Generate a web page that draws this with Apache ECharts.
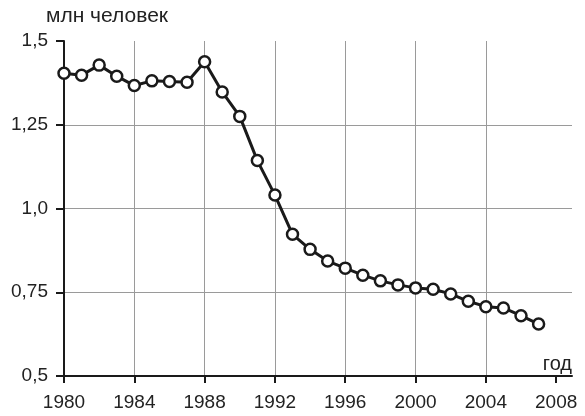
<!DOCTYPE html>
<html>
<head>
<meta charset="utf-8">
<script src="https://cdn.jsdelivr.net/npm/echarts@6/dist/echarts.min.js"></script>
<style>
  html, body { margin: 0; padding: 0; background: #fff; }
  #chart { width: 585px; height: 416px; }
</style>
</head>
<body>
<div id="chart"></div>
<script>
  // годы и численность (млн человек)
  const years = [1980, 1981, 1982, 1983, 1984, 1985, 1986, 1987, 1988, 1989,
    1990, 1991, 1992, 1993, 1994, 1995, 1996, 1997, 1998, 1999,
    2000, 2001, 2002, 2003, 2004, 2005, 2006, 2007];
  const values = [1.404, 1.398, 1.428, 1.395, 1.367, 1.381, 1.379, 1.377, 1.438, 1.348,
    1.275, 1.143, 1.040, 0.923, 0.878, 0.843, 0.822, 0.801, 0.784, 0.772,
    0.763, 0.759, 0.745, 0.723, 0.707, 0.703, 0.680, 0.655];
  const xTicks = [1980, 1984, 1988, 1992, 1996, 2000, 2004, 2008];
  const yTickLabels = { '0.5': '0,5', '0.75': '0,75', '1': '1,0', '1.25': '1,25', '1.5': '1,5' };

  const font = '"Liberation Sans", Arial, sans-serif';
  let myChart = echarts.init(document.getElementById('chart'));

  myChart.setOption({
    animation: false,
    graphic: [
      {
        type: 'text',
        left: 46,
        top: 6,
        style: { text: 'млн человек', fontFamily: font, fontSize: 21, fill: '#222' }
      }
    ],
    grid: {
      left: 64,
      top: 41,
      right: 13,
      bottom: 40,
      containLabel: false
    },
    xAxis: {
      type: 'value',
      min: 1980,
      max: 2008.9,
      interval: 4,
      name: 'год',
      nameLocation: 'end',
      nameGap: 0,
      nameTextStyle: {
        fontFamily: font, fontSize: 20, color: '#222',
        align: 'right', verticalAlign: 'bottom', padding: [0, 0, 2, 0]
      },
      axisLine: { onZero: false, lineStyle: { color: '#1a1a1a', width: 2 } },
      axisTick: { show: true, length: 7, customValues: xTicks, lineStyle: { color: '#1a1a1a', width: 2 } },
      axisLabel: {
        customValues: xTicks,
        margin: 17,
        fontFamily: font, fontSize: 19, color: '#222',
        formatter: v => String(v)
      },
      splitLine: {
        show: true,
        showMinLine: false,
        showMaxLine: false,
        lineStyle: { color: ['#9a9a9a', '#9a9a9a', '#9a9a9a', '#9a9a9a', '#9a9a9a', '#9a9a9a', 'rgba(0,0,0,0)'], width: 1 }
      }
    },
    yAxis: {
      type: 'value',
      min: 0.5,
      max: 1.5,
      interval: 0.25,
      axisLine: { show: true, lineStyle: { color: '#1a1a1a', width: 2 } },
      axisTick: { show: true, length: 8, lineStyle: { color: '#1a1a1a', width: 2 } },
      axisLabel: {
        margin: 16,
        fontFamily: font, fontSize: 19, color: '#222',
        formatter: v => yTickLabels[String(v)] || String(v)
      },
      splitLine: {
        show: true,
        showMinLine: false,
        showMaxLine: false,
        lineStyle: { color: '#9a9a9a', width: 1 }
      }
    },
    series: [
      {
        type: 'line',
        data: years.map((y, i) => [y, values[i]]),
        symbol: 'circle',
        symbolSize: 11,
        lineStyle: { color: '#1a1a1a', width: 3 },
        itemStyle: { color: '#fff', borderColor: '#1a1a1a', borderWidth: 2.5 },
        z: 5
      }
    ]
  });
</script>
</body>
</html>
